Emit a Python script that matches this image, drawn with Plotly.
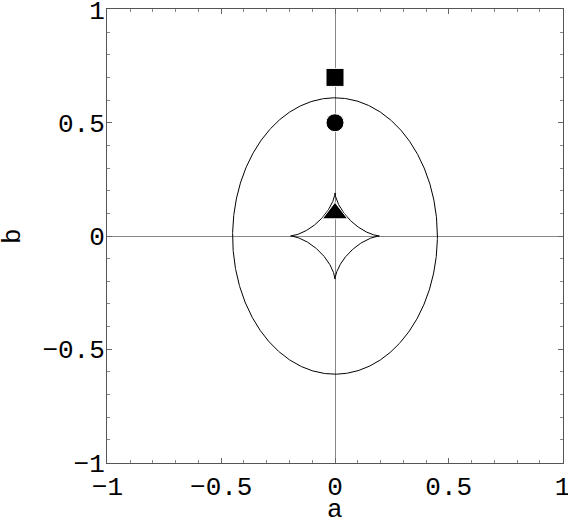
import numpy as np
import plotly.graph_objects as go

# ellipse (outer curve) and astroid (inner caustic)
ellipse_center = (0.0, 0.0)
ellipse_semi = (0.45, 0.61)
astroid_semi = (0.195, 0.19)

# point markers
marker_x = [0.0, 0.0, 0.0]
marker_y = [0.7, 0.5, 0.1]
marker_symbols = ['square', 'circle', 'triangle-up']

tick_vals = [-1, -0.5, 0, 0.5, 1]
tick_text = ['−1', '−0.5', '0', '0.5', '1']

FONT = 'Liberation Mono'
W, H = 568, 524

t = np.linspace(0, 2*np.pi, 721)
ex = ellipse_center[0] + ellipse_semi[0]*np.cos(t)
ey = ellipse_center[1] + ellipse_semi[1]*np.sin(t)
ax_ = astroid_semi[0]*np.cos(t)**3
ay_ = astroid_semi[1]*np.sin(t)**3

fig = go.Figure()
fig.add_trace(go.Scatter(x=ex, y=ey, mode='lines', line=dict(color='black', width=1)))
fig.add_trace(go.Scatter(x=ax_, y=ay_, mode='lines', line=dict(color='black', width=1)))
fig.add_trace(go.Scatter(x=marker_x, y=marker_y, mode='markers',
                         marker=dict(symbol=marker_symbols, size=[18, 18, 22],
                                     color='black', opacity=1)))

axis_style = dict(
    range=[-1.002, 1.002], tickvals=tick_vals, ticktext=tick_text,
    ticks='inside', ticklen=5, tickcolor='#666', tickwidth=1,
    minor=dict(dtick=0.1, tick0=0, ticks='inside', ticklen=3, tickcolor='#888'),
    showline=True, linecolor='#555', linewidth=1, mirror='ticks',
    showgrid=False, zeroline=True, zerolinecolor='#888', zerolinewidth=1,
    tickfont=dict(family=FONT, size=26, color='black'),
    automargin=False, ticklabeloverflow='allow',
)

fig.update_xaxes(**axis_style, ticklabelstandoff=0, domain=[107/W, 563/W])
fig.update_yaxes(**axis_style, ticklabelstandoff=-4, domain=[61/H, 515/H])

fig.add_annotation(text='a', xref='x', x=0, yref='paper', y=14/H, yanchor='middle',
                   showarrow=False, font=dict(family=FONT, size=26, color='black'))
fig.add_annotation(text='b', xref='paper', x=13/W, xanchor='center', yref='y', y=0,
                   textangle=-90, showarrow=False, font=dict(family=FONT, size=26, color='black'))

fig.update_layout(width=W, height=H, showlegend=False,
                  margin=dict(l=0, r=0, t=0, b=0),
                  plot_bgcolor='white', paper_bgcolor='white')
fig.write_html('out.html', config={'displayModeBar': False},
               post_script="document.body.style.margin='0';")
